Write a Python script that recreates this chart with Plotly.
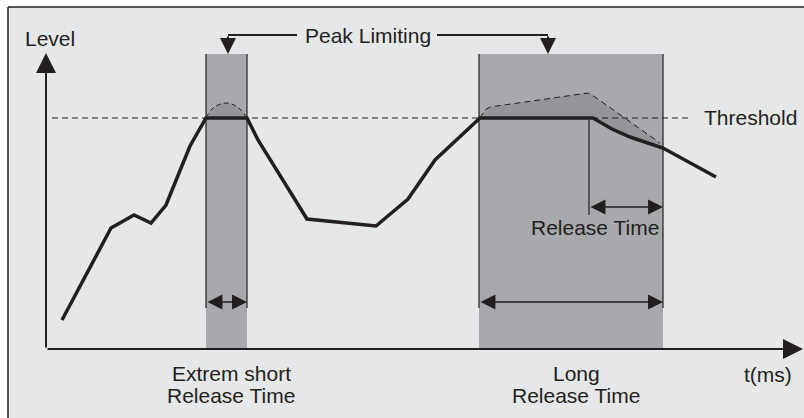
import plotly.graph_objects as go

# ---------------- data (t = time units, level = level units) ----------------
curve_t = [16, 65, 88, 105, 120, 144, 160, 201, 212, 261, 330, 362, 389, 434, 547, 554, 566, 584, 617, 670]
curve_level = [29, 121, 134, 126, 144, 203, 231, 231, 209, 130, 123, 150, 189, 231, 231, 227, 220, 212, 201, 172]

threshold_level = 231
threshold_t = [6, 646]

over_short_t = [160, 165, 172, 180, 188, 195, 201]
over_short_level = [231, 239, 244, 246, 244, 239, 231]

over_long_t = [434, 439, 444, 542, 549, 614]
over_long_level = [231, 239, 242, 256, 252, 206]

band_start = [160, 433]
band_end = [201, 617]
band_top = 295
band_edge_bottom = 41
band_arrow_level = 47

release_t = [543, 617]
release_level = [231, 134]
release_arrow_level = 142

axis_x_end = 757
axis_y_end = 296

peak_level = 314
peak_left = [251, 182]
peak_right = [391, 502]

frame_left, frame_top = -38, 342

DARK = "#231f20"
BG = "#e6e7e8"
BAND = "#a7a9ac"
OVER = "#939598"
FONT = "Liberation Sans, Arial, sans-serif"

fig = go.Figure()

shapes = [
    # white margin strips outside the frame (top and left)
    dict(type="rect", xref="x", yref="y", x0=-100, x1=900, y0=frame_top, y1=500,
         fillcolor="white", line=dict(width=0), layer="below"),
    dict(type="rect", xref="x", yref="y", x0=-100, x1=frame_left, y0=-200, y1=500,
         fillcolor="white", line=dict(width=0), layer="below"),
    dict(type="line", xref="x", yref="y", x0=frame_left, x1=900, y0=frame_top, y1=frame_top,
         line=dict(color=DARK, width=1.5), layer="below"),
    dict(type="line", xref="x", yref="y", x0=frame_left, x1=frame_left, y0=-200, y1=frame_top,
         line=dict(color=DARK, width=1.5), layer="below"),
]
for s, e in zip(band_start, band_end):
    shapes.append(dict(type="rect", xref="x", yref="y", x0=s, x1=e, y0=0, y1=band_top,
                       fillcolor=BAND, line=dict(width=0), layer="below"))
    for xx in (s, e):
        shapes.append(dict(type="line", xref="x", yref="y", x0=xx, x1=xx,
                           y0=band_edge_bottom, y1=band_top,
                           line=dict(color=DARK, width=1.2), layer="below"))

# overshoot fills
fig.add_trace(go.Scatter(x=over_short_t, y=over_short_level, mode="lines", fill="toself",
                         fillcolor=OVER, line=dict(width=0), hoverinfo="skip"))
long_poly_t = over_long_t + [t for t in curve_t[::-1] if 434 <= t <= 617]
long_poly_l = over_long_level + [l for t, l in zip(curve_t[::-1], curve_level[::-1]) if 434 <= t <= 617]
fig.add_trace(go.Scatter(x=long_poly_t, y=long_poly_l, mode="lines", fill="toself",
                         fillcolor=OVER, line=dict(width=0), hoverinfo="skip"))

# threshold
fig.add_trace(go.Scatter(x=threshold_t, y=[threshold_level] * 2, mode="lines",
                         line=dict(color=DARK, width=1, dash="6px,4px"), hoverinfo="skip"))
# overshoot dashed lines
fig.add_trace(go.Scatter(x=over_short_t, y=over_short_level, mode="lines",
                         line=dict(color=DARK, width=1, dash="5px,3px", shape="spline"), hoverinfo="skip"))
fig.add_trace(go.Scatter(x=over_long_t, y=over_long_level, mode="lines",
                         line=dict(color=DARK, width=1, dash="6px,4px"), hoverinfo="skip"))

# release vertical line
fig.add_trace(go.Scatter(x=[release_t[0]] * 2, y=release_level, mode="lines",
                         line=dict(color=DARK, width=1.2), hoverinfo="skip"))

# peak limiting horizontal lines
fig.add_trace(go.Scatter(x=peak_left, y=[peak_level] * 2, mode="lines",
                         line=dict(color=DARK, width=2), hoverinfo="skip"))
fig.add_trace(go.Scatter(x=peak_right, y=[peak_level] * 2, mode="lines",
                         line=dict(color=DARK, width=2), hoverinfo="skip"))

# main curve
fig.add_trace(go.Scatter(x=curve_t, y=curve_level, mode="lines",
                         line=dict(color=DARK, width=3.5), hoverinfo="skip"))

ann = []


def arrow(x, y, ax, ay, width, size, side="end"):
    ann.append(dict(x=x, y=y, ax=ax, ay=ay, xref="x", yref="y", axref="x", ayref="y",
                    showarrow=True, arrowhead=2, arrowsize=size, arrowwidth=width,
                    arrowcolor=DARK, arrowside=side, text="", standoff=0, startstandoff=0,
                    startarrowhead=2, startarrowsize=size))


# axes
arrow(0, axis_y_end, 0, 0, 2, 2.0)
arrow(axis_x_end, 0, 0, 0, 2, 2.0)
# peak limiting down arrows
arrow(peak_left[1], band_top, peak_left[1], peak_level, 2, 1.6)
arrow(peak_right[1], band_top, peak_right[1], peak_level, 2, 1.6)
# double arrows
arrow(band_end[0], band_arrow_level, band_start[0], band_arrow_level, 1.3, 2.3, "end+start")
arrow(band_end[1], band_arrow_level, band_start[1], band_arrow_level, 1.3, 2.3, "end+start")
arrow(release_t[1], release_arrow_level, release_t[0], release_arrow_level, 1.3, 2.3, "end+start")


def label(text, x, y, anchor="center"):
    ann.append(dict(x=x, y=y, xref="x", yref="y", text=text, showarrow=False,
                    xanchor=anchor, yanchor="middle",
                    font=dict(family=FONT, size=21, color=DARK)))


label("Level", 3.5, 311)
label("Peak Limiting", 322, 314)
label("Threshold", 704.5, 232)
label("Release Time", 549, 122)
label("Extrem short", 185, -24)
label("Release Time", 185, -46)
label("Long", 530, -24)
label("Release Time", 530, -46)
label("t(ms)", 722, -25)

fig.update_layout(
    width=804, height=418, autosize=False,
    margin=dict(l=0, r=0, t=0, b=0, pad=0),
    paper_bgcolor=BG, plot_bgcolor=BG,
    showlegend=False,
    xaxis=dict(range=[-46, 758], visible=False, fixedrange=True),
    yaxis=dict(range=[-69, 349], visible=False, fixedrange=True),
    shapes=shapes, annotations=ann,
)

fig.write_html("out.html", config={"displayModeBar": False},
               post_script="document.body.style.margin='0';document.body.style.overflow='hidden';"
                           "document.body.style.background='" + BG + "';")
